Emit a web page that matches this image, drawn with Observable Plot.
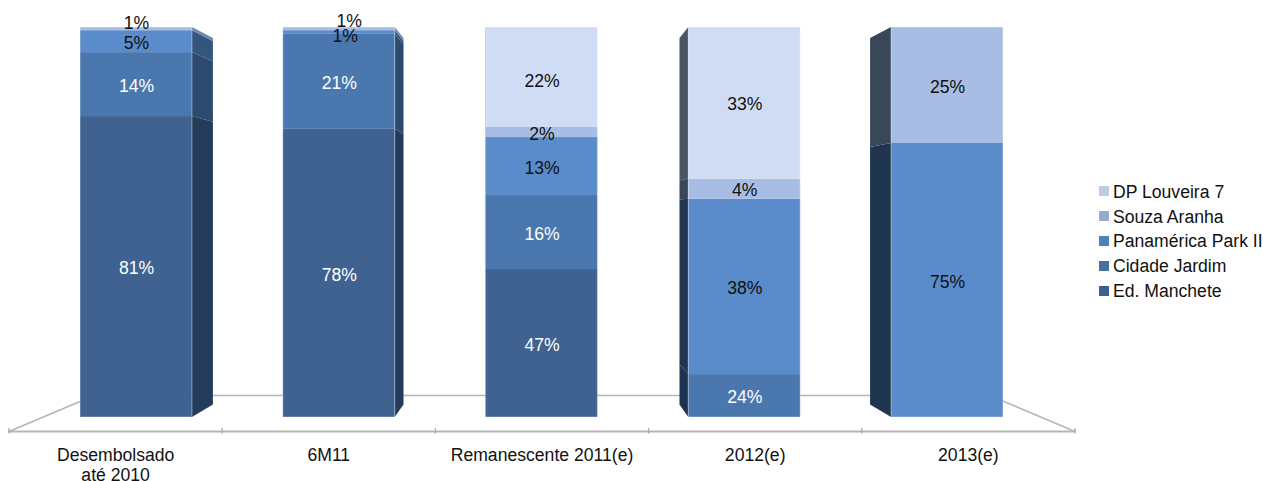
<!DOCTYPE html>
<html>
<head>
<meta charset="utf-8">
<script src="https://cdn.jsdelivr.net/npm/d3@7"></script>
<script src="https://cdn.jsdelivr.net/npm/@observablehq/plot@0.6"></script>
<style>
html,body{margin:0;padding:0;background:#fff;overflow:hidden}
#wrap{position:relative;width:1263px;height:481px}
svg{display:block}
#legend{position:absolute;left:1099px;top:179px;font:17.6px "Liberation Sans",Arial,sans-serif;color:#111}
#legend div{display:flex;align-items:center;height:24.8px;white-space:nowrap}
#legend i{display:block;width:10px;height:10px;margin-right:4px}
#legend span{position:relative;top:1px}
</style>
</head>
<body>
<div id="wrap"></div>
<script>
const categories = ["Desembolsado\naté 2010", "6M11", "Remanescente 2011(e)", "2012(e)", "2013(e)"];
const series = ["Ed. Manchete", "Cidade Jardim", "Panamérica Park II", "Souza Aranha", "DP Louveira 7"];
const edManchete   = [80.5, 77.7, 47.0, 0, 0];
const cidadeJardim = [14.0, 20.8, 16.2, 24.0, 0];
const panamerica   = [4.8, 0.8, 12.7, 38.4, 74.6];
const souzaAranha  = [0.7, 0.7, 2.2, 4.4, 25.4];
const dpLouveira   = [0, 0, 21.9, 33.2, 0];
const seriesValues = [edManchete, cidadeJardim, panamerica, souzaAranha, dpLouveira];

const frontColors = ["#3f6290", "#4a77ae", "#5a8bca", "#a8bde3", "#d0dcf3"];
const rightColors = ["#243c5b", "#2c4a70", "#33567f", "#6d87ad", "#8e9fbb"];
const leftColors  = ["#1d3450", "#1d3450", "#1f3550", "#3a4759", "#4a5563"];
const legendColors = ["#3d5f8d", "#45719f", "#4f81bd", "#95a9d1", "#bccae3"];
const labelColors = ["#fff", "#fff", "#111", "#111", "#111"];

// Layout of the 3-D scene, in scale units
const yBase = 14.6, yTop = 100;          // the value axis is cut at its base
const axisV = 11.53, wallV = 19.42;      // floor front and back edges
const tickUp = 0.66, tickDown = 0.55;
const yVanish = 59.93;                   // vanishing height
const sFront = 0.951, sBack = 0.94, sWall = 0.84;
const barShare = 0.552;

const px = (i, s) => 2.5 + (i - 2.5) * s;
const py = (v, r) => yVanish + (v - yVanish) * r;

const fronts = [], sides = [], labels = [];
categories.forEach((cat, b) => {
  const x1 = px(b + 0.5 - barShare / 2, sFront), x2 = px(b + 0.5 + barShare / 2, sFront);
  const sideRight = b < 2;
  const edge = sideRight ? x2 : x1;
  const back = 2.5 + (edge - 2.5) * sBack;
  let cum = 0;
  seriesValues.forEach((vals, k) => {
    const v = vals[b];
    if (!v) return;
    const lo = Math.max(cum, yBase), hi = cum + v;
    const fill = frontColors[k];
    fronts.push({x1, x2, y1: lo, y2: hi, fill});
    const sideFill = sideRight ? rightColors[k] : leftColors[k];
    const id = b + "-" + k;
    sides.push({id, x: edge, y1: lo, y2: hi, fill: sideFill});
    sides.push({id, x: back, y1: py(lo, sBack), y2: py(hi, sBack), fill: sideFill});
    labels.push({b, k, x: (x1 + x2) / 2, y: (lo + hi) / 2, text: Math.round(v) + "%", fill: labelColors[k]});
    cum += v;
  });
});
const barOutlines = categories.map((cat, b) => ({
  x1: px(b + 0.5 - barShare / 2, sFront), x2: px(b + 0.5 + barShare / 2, sFront), y1: yBase, y2: yTop
}));

const isNudged = d => (d.b < 2 && d.k >= 2) || (d.b === 2 && d.k === 4);
const plain = labels.filter(d => !isNudged(d));
const nudge = (b, k) => labels.filter(d => d.b === b && d.k === k);

const ticks = d3.range(0, categories.length + 1);
const wallL = px(0, sWall), wallR = px(5, sWall);
const floor = [
  {x: 0, y: axisV}, {x: wallL, y: wallV}, {x: wallR, y: wallV}, {x: 5, y: axisV}
];
const lineColor = "#b5b5b5";
const font = {fontSize: 17.6, fontFamily: '"Liberation Sans", Arial, sans-serif'};

const chart = Plot.plot({
  width: 1263, height: 481,
  marginLeft: 8.5, marginRight: 188.5, marginTop: 27, marginBottom: 64,
  x: {domain: [0, 5], axis: null},
  y: {type: "linear", domain: [yBase, yTop], axis: null},
  style: {background: "transparent"},
  marks: [
    Plot.line(floor, {x: "x", y: "y", stroke: lineColor, strokeWidth: 1.5}),
    Plot.line([{x: 0, y: axisV}, {x: 5, y: axisV}], {x: "x", y: "y", stroke: lineColor, strokeWidth: 1.8}),
    Plot.ruleX(ticks, {x: d => d, y1: axisV - tickDown, y2: axisV + tickUp, stroke: "#a8a8a8", strokeWidth: 1.3}),
    Plot.areaY(sides, {x: "x", y1: "y1", y2: "y2", z: "id", fill: "fill", curve: "linear"}),
    Plot.rect(fronts, {x1: "x1", x2: "x2", y1: "y1", y2: "y2", fill: "fill"}),
    Plot.rect(barOutlines, {x1: "x1", x2: "x2", y1: "y1", y2: "y2", fill: "none", stroke: "#fff", strokeOpacity: 0.3, strokeWidth: 1.2}),
    Plot.text(plain, {x: "x", y: "y", text: "text", fill: "fill", dy: 1.5, ...font}),
    Plot.text(nudge(2, 4), {x: "x", y: "y", text: "text", fill: "fill", dy: 3.5, ...font}),
    Plot.text(nudge(0, 2), {x: "x", y: "y", text: "text", fill: "fill", dy: 1.5, ...font}),
    Plot.text(nudge(0, 3), {x: "x", y: "y", text: "text", fill: "fill", dy: -6, ...font}),
    Plot.text(nudge(1, 2), {x: "x", y: "y", text: "text", fill: "fill", dx: 6, dy: 4, ...font}),
    Plot.text(nudge(1, 3), {x: "x", y: "y", text: "text", fill: "fill", dx: 10, dy: -8, ...font}),
    Plot.text(categories, {
      x: (d, i) => i + 0.5, frameAnchor: "bottom", lineAnchor: "top", dy: 29,
      text: d => d, fill: "#111", lineHeight: 1.15, ...font
    })
  ]
});
const wrap = document.getElementById("wrap");
wrap.appendChild(chart);

const legend = document.createElement("div");
legend.id = "legend";
series.map((s, k) => [s, legendColors[k]]).reverse().forEach(([s, c]) => {
  const row = document.createElement("div");
  const sw = document.createElement("i");
  sw.style.background = c;
  row.appendChild(sw);
  const label = document.createElement("span");
  label.textContent = s;
  row.appendChild(label);
  legend.appendChild(row);
});
wrap.appendChild(legend);
</script>
</body>
</html>
